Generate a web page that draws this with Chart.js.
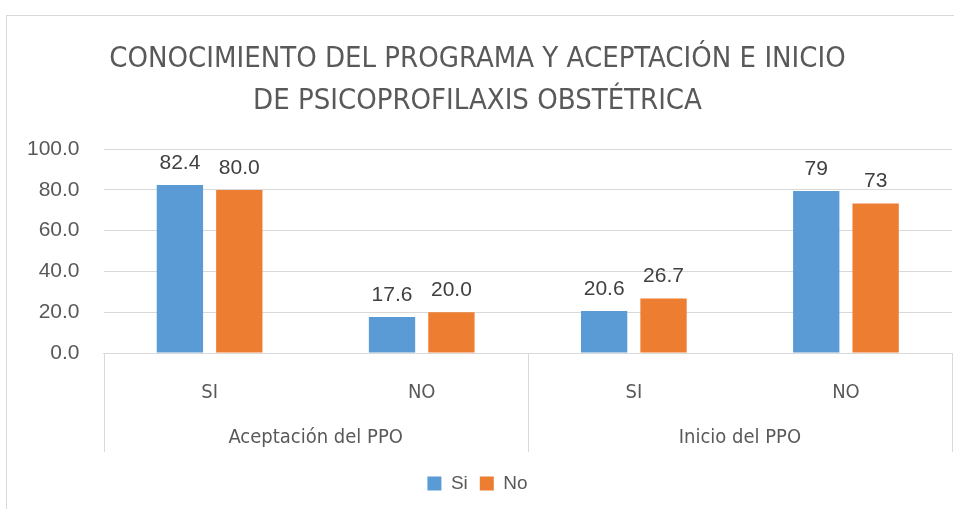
<!DOCTYPE html>
<html>
<head>
<meta charset="utf-8">
<script src="https://cdn.jsdelivr.net/npm/chart.js@4.4.0/dist/chart.umd.min.js"></script>
<style>
  html, body { margin: 0; padding: 0; background: #fff; overflow: hidden; }
  #frame { position: absolute; left: 6px; top: 15px; width: 980px; height: 520px;
           border-left: 1px solid #d9d9d9; border-top: 1px solid #d9d9d9; }
  #wrap { position: absolute; left: 0; top: 0; width: 954px; height: 509px; }
</style>
</head>
<body>
<div id="frame"></div>
<div id="wrap"><canvas id="grafico"></canvas></div>
<script>
const categorias = ['SI', 'NO', 'SI', 'NO'];
const grupos = ['Aceptación del PPO', 'Inicio del PPO'];
const valoresSi = [82.4, 17.6, 20.6, 79.4];
const valoresNo = [80.0, 20.0, 26.7, 73.3];
const etiquetasSi = ['82.4', '17.6', '20.6', '79'];
const etiquetasNo = ['80.0', '20.0', '26.7', '73'];
const titulo = ['CONOCIMIENTO DEL PROGRAMA Y ACEPTACIÓN E INICIO', 'DE PSICOPROFILAXIS OBSTÉTRICA'];

const gris = '#d9d9d9';
const texto = '#595959';
const fuente = '"Liberation Sans", Arial, sans-serif';
const fuenteEstrecha = '"Liberation Sans Narrow", "DejaVu Sans Condensed", sans-serif';

// etiquetas encima de cada barra
const etiquetasBarras = {
  id: 'etiquetasBarras',
  afterDatasetsDraw(chart) {
    const ctx = chart.ctx;
    const listas = [etiquetasSi, etiquetasNo];
    ctx.save();
    ctx.font = '21px ' + fuente;
    ctx.fillStyle = '#404040';
    ctx.textAlign = 'center';
    ctx.textBaseline = 'middle';
    chart.data.datasets.forEach((ds, d) => {
      chart.getDatasetMeta(d).data.forEach((bar, i) => {
        ctx.fillText(listas[d][i], bar.x, bar.y - 22);
      });
    });
    ctx.restore();
  }
};

// lineas verticales que separan los dos grupos del eje x
const separadores = {
  id: 'separadores',
  afterDraw(chart) {
    const x = chart.scales.x;
    const x2 = chart.scales.x2;
    const mitad = (x.getPixelForValue(1) - x.getPixelForValue(0)) / 2;
    const ctx = chart.ctx;
    ctx.save();
    ctx.strokeStyle = gris;
    ctx.lineWidth = 1;
    for (let i = 0; i <= categorias.length; i += 2) {
      const px = Math.round(x.getPixelForValue(0) - mitad + i * 2 * mitad) + 0.5;
      ctx.beginPath();
      ctx.moveTo(px, x.top);
      ctx.lineTo(px, x2.bottom - 10);
      ctx.stroke();
    }
    ctx.restore();
  }
};

new Chart(document.getElementById('grafico'), {
  type: 'bar',
  data: {
    labels: categorias,
    datasets: [{
      label: 'Si',
      data: valoresSi,
      backgroundColor: '#5b9bd5',
      categoryPercentage: 0.56,
      barPercentage: 0.78
    }, {
      label: 'No',
      data: valoresNo,
      backgroundColor: '#ed7d31',
      categoryPercentage: 0.56,
      barPercentage: 0.78
    }]
  },
  options: {
    responsive: true,
    maintainAspectRatio: false,
    animation: false,
    layout: { padding: { left: 3, right: 2, top: 38, bottom: 6 } },
    plugins: {
      title: {
        display: true,
        text: titulo,
        color: texto,
        font: { family: fuenteEstrecha, size: 29, weight: 'normal', lineHeight: 1.45 },
        padding: { top: 0, bottom: 27 }
      },
      legend: {
        position: 'bottom',
        labels: {
          color: texto,
          font: { family: fuente, size: 19 },
          boxWidth: 14,
          boxHeight: 14,
          padding: 12
        }
      },
      tooltip: { enabled: false }
    },
    scales: {
      y: {
        min: 0,
        max: 100,
        ticks: {
          stepSize: 20,
          padding: 24,
          color: texto,
          font: { family: fuente, size: 21 },
          callback: v => v.toFixed(1)
        },
        grid: { color: gris, drawTicks: false },
        border: { display: false }
      },
      x: {
        afterFit: s => { s.height = 52; },
        ticks: {
          color: texto,
          padding: 20,
          font: { family: fuenteEstrecha, size: 20 }
        },
        grid: { display: false },
        border: { display: true, color: gris }
      },
      x2: {
        type: 'category',
        position: 'bottom',
        labels: grupos,
        afterFit: s => { s.height = 57; },
        ticks: {
          color: texto,
          padding: 13,
          font: { family: fuenteEstrecha, size: 20 }
        },
        grid: { display: false },
        border: { display: false }
      }
    }
  },
  plugins: [etiquetasBarras, separadores]
});
</script>
</body>
</html>
